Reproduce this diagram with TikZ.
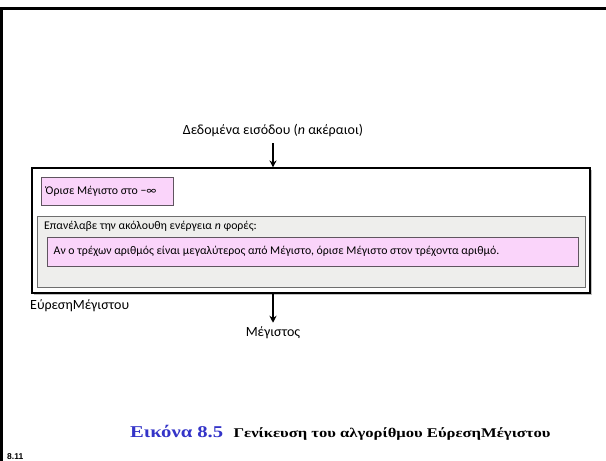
\documentclass[tikz,border=0pt]{standalone}
\usepackage{fontspec}
\setmainfont{Carlito}
\newfontfamily\capfont{Liberation Serif}
\newfontfamily\pagefont{Liberation Sans}
\usetikzlibrary{shadows,arrows.meta}
\definecolor{pinkfill}{RGB}{250,212,250}
\definecolor{pinkline}{RGB}{95,85,95}
\definecolor{grayfill}{RGB}{238,238,236}
\definecolor{grayline}{RGB}{110,110,110}
\definecolor{capblue}{RGB}{52,52,200}
% caption lettering is set slightly wide
\newcommand\widetext[1]{\scalebox{1.25}[1]{#1}}
\tikzset{
  lbl/.style={inner sep=0pt, font=\fontsize{14}{16}\selectfont},
  boxtext/.style={inner sep=0pt, font=\fontsize{11.8}{13}\selectfont},
  outerbox/.style={draw=black, line width=1.1pt, fill=white, inner sep=0pt,
    drop shadow={shadow xshift=2pt, shadow yshift=-2pt, fill=gray!70, opacity=0.7}},
  loopbox/.style={draw=grayline, line width=1pt, fill=grayfill, inner sep=0pt,
    drop shadow={shadow xshift=1.2pt, shadow yshift=-1.2pt, fill=gray!50, opacity=0.6}},
  actbox/.style={draw=pinkline, line width=1pt, fill=pinkfill, inner sep=0pt,
    drop shadow={shadow xshift=1pt, shadow yshift=-1pt, fill=gray!40, opacity=0.5}},
  flow/.style={line width=2pt, -{Stealth[length=7pt,width=7pt]}}
}
\begin{document}
\begin{tikzpicture}[x=1pt,y=-1pt]
\useasboundingbox (0,0) rectangle (606,461);
% page frame (top and left edges)
\draw[line width=3pt] (606,8.5) -- (1.5,8.5) -- (1.5,461);

% input label
\node[lbl] (in) at (273,131) {Δεδομένα εισόδου (\textit{n} ακέραιοι)};

% algorithm box
\node[outerbox, minimum width=558pt, minimum height=125pt] (outer) at (311,230.5) {};
\node[actbox, minimum width=132pt, minimum height=28pt] (init) at (107,191) {};
\node[boxtext, anchor=west] (initt) at ([xshift=5pt]init.west) {Όρισε Μέγιστο στο −∞};
\node[loopbox, minimum width=548pt, minimum height=71pt] (loop) at (311,251.5) {};
\node[boxtext, anchor=west] (loopt) at (44,226) {Επανέλαβε την ακόλουθη ενέργεια \textit{n} φορές:};
\node[actbox, minimum width=531pt, minimum height=29pt] (step1) at (312.5,251.5) {};
\node[boxtext, anchor=west] (step1t) at ([xshift=7pt]step1.west) {Αν ο τρέχων αριθμός είναι μεγαλύτερος από Μέγιστο, όρισε Μέγιστο στον τρέχοντα αριθμό.};

% algorithm name
\node[lbl, anchor=west] (name) at (30,306) {ΕύρεσηΜέγιστου};

% output label
\node[lbl] (out) at (273,333) {Μέγιστος};

% flow arrows
\draw[flow] ([yshift=-6pt]in.south) -- (in.south |- outer.north);
\draw[flow] (out.north |- outer.south) -- ([yshift=4pt]out.north);

% caption
\node[anchor=base west, inner sep=0pt, font=\capfont\bfseries\fontsize{16.5}{18}\selectfont, text=capblue] (capnum) at (130,437) {\widetext{Εικόνα 8.5}};
\node[anchor=base west, inner sep=0pt, font=\capfont\bfseries\fontsize{13.3}{15}\selectfont] (captxt) at ([xshift=10pt]capnum.base east) {\widetext{Γενίκευση του αλγορίθμου ΕύρεσηΜέγιστου}};

% page number
\node[anchor=base west, inner sep=0pt, font=\pagefont\bfseries\fontsize{8.5}{10}\selectfont] (pageno) at (7,459) {8.11};
\end{tikzpicture}
\end{document}
